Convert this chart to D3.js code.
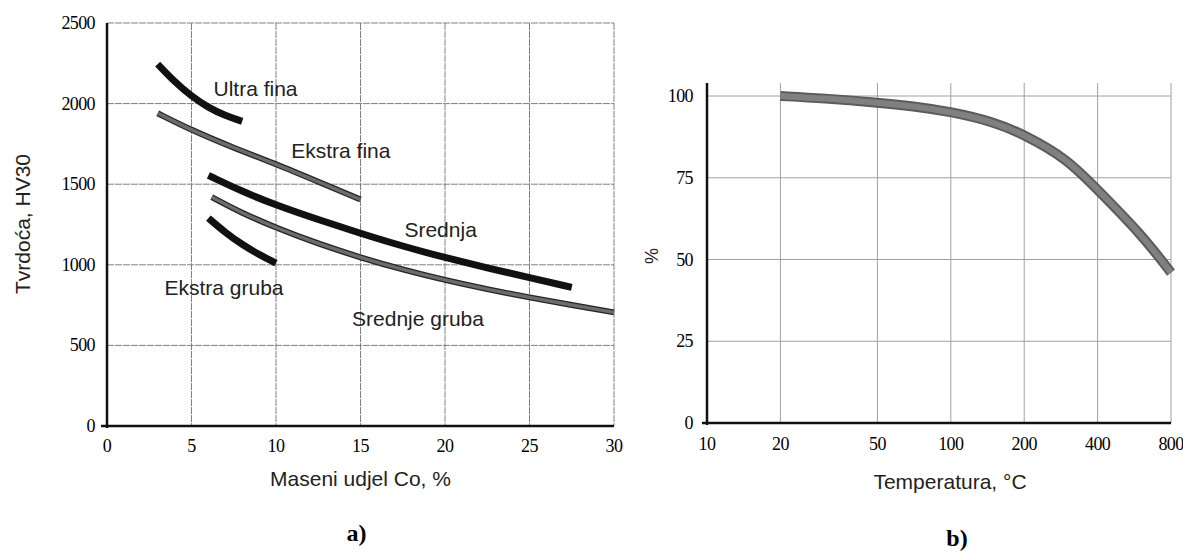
<!DOCTYPE html>
<html>
<head>
<meta charset="utf-8">
<script src="https://cdn.jsdelivr.net/npm/d3@7"></script>
<style>
  html, body { margin: 0; padding: 0; background: #fff; }
  svg { display: block; }
  .tick-lbl { font-family: "Liberation Serif", "Times New Roman", serif; font-size: 18px; fill: #000; letter-spacing: -0.6px; }
  .lbl { font-family: "Liberation Sans", Arial, sans-serif; fill: #222; }
</style>
</head>
<body>
<svg id="chart" width="1183" height="554"></svg>
<script>
// ---------- Data: chart a) ----------
const coTicks = [0, 5, 10, 15, 20, 25, 30];
const hvTicks = [0, 500, 1000, 1500, 2000, 2500];
const ultraFinaCo = [3, 4, 5, 6, 7, 8];
const ultraFinaHV = [2245, 2135, 2045, 1975, 1925, 1890];
const ekstraFinaCo = [3, 5, 7.5, 10, 12.5, 15];
const ekstraFinaHV = [1940, 1835, 1725, 1625, 1515, 1405];
const srednjaCo = [6, 8, 10, 12.5, 15, 17.5, 20, 22.5, 25, 27.5];
const srednjaHV = [1555, 1455, 1370, 1280, 1195, 1115, 1045, 980, 920, 860];
const srednjeGrubaCo = [6.2, 8, 10, 12.5, 15, 17.5, 20, 22.5, 25, 27.5, 30];
const srednjeGrubaHV = [1420, 1320, 1230, 1130, 1045, 970, 905, 848, 797, 750, 705];
const ekstraGrubaCo = [6, 7, 8, 9, 10];
const ekstraGrubaHV = [1290, 1200, 1125, 1063, 1010];
const labelsA = ["Ultra fina", "Ekstra fina", "Srednja", "Srednje gruba", "Ekstra gruba"];

// ---------- Data: chart b) ----------
const tempTicks = [10, 20, 50, 100, 200, 400, 800];
const pctTicks = [0, 25, 50, 75, 100];
const tempC = [20, 30, 50, 70, 100, 150, 200, 300, 400, 600, 800];
const pctVal = [100, 99.3, 98, 96.9, 95.2, 92.1, 88.2, 80.8, 71.3, 58, 46];

const svg = d3.select("#chart");
const zip = (a, b) => a.map((v, i) => [v, b[i]]);

// ================= Chart a =================
const ax = d3.scaleLinear().domain([0, 30]).range([107, 614]);
const ay = d3.scaleLinear().domain([0, 2500]).range([426, 23]);
const ga = svg.append("g");

ga.selectAll(".vg").data(coTicks.slice(1)).join("line")
  .attr("x1", d => ax(d)).attr("x2", d => ax(d))
  .attr("y1", ay(2500)).attr("y2", ay(0))
  .attr("stroke", "#808080").attr("stroke-width", 1).attr("stroke-dasharray", "7,1");
ga.selectAll(".hg").data(hvTicks.slice(1)).join("line")
  .attr("x1", ax(0)).attr("x2", ax(30))
  .attr("y1", d => ay(d)).attr("y2", d => ay(d))
  .attr("stroke", "#808080").attr("stroke-width", 1).attr("stroke-dasharray", "7,1");

ga.append("line").attr("x1", ax(0)).attr("x2", ax(0)).attr("y1", ay(2500)).attr("y2", ay(0) + 2)
  .attr("stroke", "#111").attr("stroke-width", 2.5);
ga.append("line").attr("x1", ax(0) - 6).attr("x2", ax(30)).attr("y1", ay(0)).attr("y2", ay(0))
  .attr("stroke", "#111").attr("stroke-width", 2.5);

ga.selectAll(".yt").data(hvTicks).join("text").attr("class", "tick-lbl")
  .attr("x", ax(0) - 12).attr("y", d => ay(d) + 6).attr("text-anchor", "end").text(d => d);
ga.selectAll(".xt").data(coTicks).join("text").attr("class", "tick-lbl")
  .attr("x", d => ax(d)).attr("y", ay(0) + 26).attr("text-anchor", "middle").text(d => d);

const lineA = d3.line().x(d => ax(d[0])).y(d => ay(d[1])).curve(d3.curveBasis);
function blackCurve(xs, ys) {
  ga.append("path").datum(zip(xs, ys)).attr("d", lineA)
    .attr("fill", "none").attr("stroke", "#111").attr("stroke-width", 7).attr("stroke-linecap", "butt");
}
function grayCurve(xs, ys) {
  ga.append("path").datum(zip(xs, ys)).attr("d", lineA)
    .attr("fill", "none").attr("stroke", "#262626").attr("stroke-width", 6).attr("stroke-linecap", "butt");
  ga.append("path").datum(zip(xs, ys)).attr("d", lineA)
    .attr("fill", "none").attr("stroke", "#6c6c6c").attr("stroke-width", 3.4).attr("stroke-linecap", "butt");
}
blackCurve(ultraFinaCo, ultraFinaHV);
grayCurve(ekstraFinaCo, ekstraFinaHV);
blackCurve(srednjaCo, srednjaHV);
grayCurve(srednjeGrubaCo, srednjeGrubaHV);
blackCurve(ekstraGrubaCo, ekstraGrubaHV);

const labelPos = [[6.3, 2050], [10.9, 1660], [17.6, 1170], [14.5, 620], [3.4, 810]];
ga.selectAll(".cl").data(labelsA).join("text").attr("class", "lbl")
  .attr("font-size", 21)
  .attr("x", (d, i) => ax(labelPos[i][0])).attr("y", (d, i) => ay(labelPos[i][1]))
  .text(d => d);

ga.append("text").attr("class", "lbl").attr("font-size", 21)
  .attr("transform", `translate(30,224) rotate(-90)`).attr("text-anchor", "middle")
  .text("Tvrdoća, HV30");
ga.append("text").attr("class", "lbl").attr("font-size", 21)
  .attr("x", (ax(0) + ax(30)) / 2).attr("y", 486).attr("text-anchor", "middle")
  .text("Maseni udjel Co, %");
svg.append("text").attr("x", (ax(0) + ax(30)) / 2 - 4).attr("y", 541).attr("text-anchor", "middle")
  .attr("font-family", "Liberation Serif, Times New Roman, serif").attr("font-weight", "bold")
  .attr("font-size", 24).attr("fill", "#000").text("a)");

// ================= Chart b =================
const bx = d3.scaleLog().domain([10, 800]).range([707, 1171]);
const by = d3.scaleLinear().domain([0, 100]).range([423, 96]);
const gb = svg.append("g");

gb.selectAll(".vg").data(tempTicks.slice(1)).join("line")
  .attr("x1", d => bx(d)).attr("x2", d => bx(d))
  .attr("y1", 83).attr("y2", by(0))
  .attr("stroke", "#a0a0a0").attr("stroke-width", 1);
gb.selectAll(".hg").data(pctTicks.slice(1)).join("line")
  .attr("x1", bx(10)).attr("x2", bx(800))
  .attr("y1", d => by(d)).attr("y2", d => by(d))
  .attr("stroke", "#a0a0a0").attr("stroke-width", 1);

gb.append("line").attr("x1", bx(10)).attr("x2", bx(10)).attr("y1", 83).attr("y2", by(0) + 2)
  .attr("stroke", "#111").attr("stroke-width", 2.5);
gb.append("line").attr("x1", bx(10) - 5).attr("x2", bx(800)).attr("y1", by(0)).attr("y2", by(0))
  .attr("stroke", "#111").attr("stroke-width", 2.5);

gb.selectAll(".yt").data(pctTicks).join("text").attr("class", "tick-lbl")
  .attr("font-size", 17)
  .attr("x", bx(10) - 14).attr("y", d => by(d) + 6).attr("text-anchor", "end").text(d => d);
gb.selectAll(".xt").data(tempTicks).join("text").attr("class", "tick-lbl")
  .attr("font-size", 17)
  .attr("x", d => bx(d)).attr("y", by(0) + 27).attr("text-anchor", "middle").text(d => d);

const lineB = d3.line().x(d => bx(d[0])).y(d => by(d[1])).curve(d3.curveBasis);
gb.append("path").datum(zip(tempC, pctVal)).attr("d", lineB)
  .attr("fill", "none").attr("stroke", "#5c5c5c").attr("stroke-width", 10).attr("stroke-linecap", "butt");
gb.append("path").datum(zip(tempC, pctVal)).attr("d", lineB)
  .attr("fill", "none").attr("stroke", "#808080").attr("stroke-width", 6).attr("stroke-linecap", "butt");

gb.append("text").attr("class", "lbl").attr("font-size", 18).attr("fill", "#5a6170")
  .attr("transform", `translate(658,256) rotate(-90)`).attr("text-anchor", "middle")
  .text("%");
gb.append("text").attr("class", "lbl").attr("font-size", 21)
  .attr("x", 950).attr("y", 489).attr("text-anchor", "middle")
  .text("Temperatura, °C");
svg.append("text").attr("x", 957).attr("y", 546).attr("text-anchor", "middle")
  .attr("font-family", "Liberation Serif, Times New Roman, serif").attr("font-weight", "bold")
  .attr("font-size", 24).attr("fill", "#000").text("b)");
</script>
</body>
</html>
